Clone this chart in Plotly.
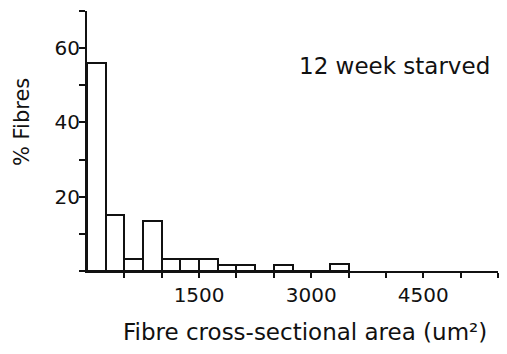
import plotly.graph_objects as go

# Data
bin_width = 250
bin_starts = [0, 250, 500, 750, 1000, 1250, 1500, 1750, 2000, 2250, 2500, 2750, 3000, 3250]
pct_fibres = [56, 15, 3.3, 13.5, 3.3, 3.2, 3.2, 1.7, 1.7, 0, 1.5, 0, 0, 1.8]
x_tick_vals = [500, 1000, 1500, 2000, 2500, 3000, 3500, 4000, 4500, 5000, 5500]
x_tick_text = ["", "", "1500", "", "", "3000", "", "", "4500", "", ""]
y_tick_vals = [0, 10, 20, 30, 40, 50, 60, 70]
y_tick_text = ["", "", "20", "", "40", "", "60", ""]
x_title = "Fibre cross-sectional area (um²)"
y_title = "% Fibres"
panel_label = "12 week starved"

centers = [s + bin_width / 2 for s in bin_starts]

FONT = "DejaVu Sans, Verdana, sans-serif"
INK = "#111111"

fig = go.Figure()
fig.add_trace(go.Bar(
    x=centers, y=pct_fibres, width=bin_width,
    marker=dict(color="white", line=dict(color=INK, width=2)),
    showlegend=False, hoverinfo="skip",
))

fig.add_annotation(
    text=panel_label, x=0.985, y=0.79, xref="paper", yref="paper",
    xanchor="right", yanchor="middle", showarrow=False,
    font=dict(family=FONT, size=23, color=INK),
)
fig.add_annotation(
    text=x_title, x=0.53, y=-0.235, xref="paper", yref="paper",
    xanchor="center", yanchor="middle", showarrow=False,
    font=dict(family=FONT, size=23, color=INK),
)
fig.add_annotation(
    text=y_title, x=-0.158, y=0.573, xref="paper", yref="paper",
    xanchor="center", yanchor="middle", showarrow=False, textangle=-90,
    font=dict(family=FONT, size=21, color=INK),
)

fig.update_layout(
    width=507, height=354,
    margin=dict(l=87, r=9, t=11, b=83),
    paper_bgcolor="white", plot_bgcolor="white",
    font=dict(family=FONT, color=INK),
    bargap=0,
)
fig.update_xaxes(
    range=[0, 5500], showgrid=False, zeroline=False,
    showline=True, linecolor=INK, linewidth=2,
    ticks="outside", ticklen=5, tickwidth=2, tickcolor=INK,
    tickvals=x_tick_vals, ticktext=x_tick_text,
    tickfont=dict(family=FONT, size=20, color=INK),
)
fig.update_yaxes(
    range=[0, 70], showgrid=False, zeroline=False,
    showline=True, linecolor=INK, linewidth=2,
    ticks="outside", ticklen=6, tickwidth=2, tickcolor=INK,
    tickvals=y_tick_vals, ticktext=y_tick_text, ticklabelstandoff=-5,
    tickfont=dict(family=FONT, size=20, color=INK),
)

fig.write_html("out.html")
